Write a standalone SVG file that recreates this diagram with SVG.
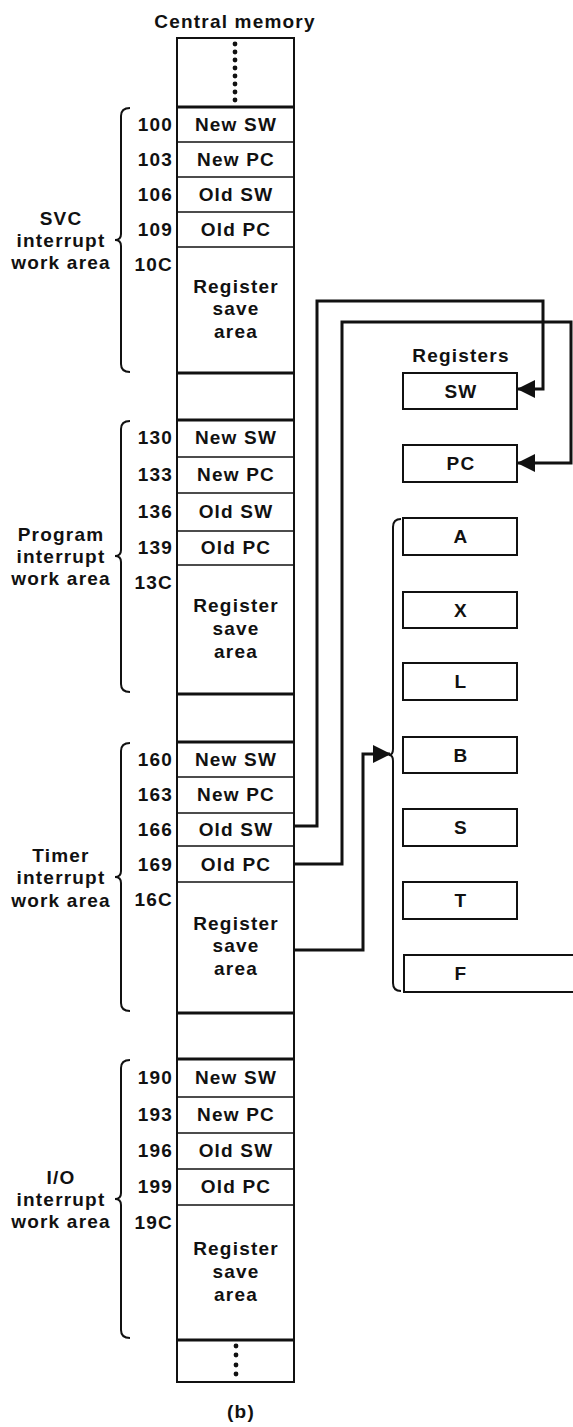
<svg xmlns="http://www.w3.org/2000/svg" width="573" height="1427" viewBox="0 0 573 1427">
<style>
text{font-family:"Liberation Sans",Arial,sans-serif;font-weight:bold;font-size:19px;fill:#111;letter-spacing:1.2px}
.c{text-anchor:middle}
.r{text-anchor:end}
.box{fill:#fff;stroke:#111;stroke-width:2}
.thin{stroke:#111;stroke-width:1.6}
.thick{stroke:#111;stroke-width:3.2}
.brace{fill:none;stroke:#111;stroke-width:2}
.dot{fill:#111}
.conn{fill:none;stroke:#111;stroke-width:3;stroke-linejoin:miter}
</style>
<defs>
<marker id="ah" markerUnits="userSpaceOnUse" markerWidth="18" markerHeight="18" viewBox="0 0 18 18" refX="17" refY="9" orient="auto">
<path d="M0,0 L18,9 L0,18 z" fill="#111"/>
</marker>
</defs>
<rect width="573" height="1427" fill="#fff"/>
<text class="c" x="235" y="28">Central memory</text>

<g id="memory">
<rect class="box" x="177" y="38" width="117" height="1344"/>
<g id="top-dots">
<circle class="dot" cx="235" cy="44" r="2.4"/><circle class="dot" cx="235" cy="52" r="2.4"/><circle class="dot" cx="235" cy="60" r="2.4"/><circle class="dot" cx="235" cy="68" r="2.4"/><circle class="dot" cx="235" cy="76" r="2.4"/><circle class="dot" cx="235" cy="84" r="2.4"/><circle class="dot" cx="235" cy="92" r="2.4"/><circle class="dot" cx="235" cy="100" r="2.4"/>
</g>
<line class="thick" x1="177" y1="107" x2="294" y2="107"/>
<line class="thick" x1="177" y1="373" x2="294" y2="373"/>
<line class="thick" x1="177" y1="420" x2="294" y2="420"/>
<line class="thick" x1="177" y1="694" x2="294" y2="694"/>
<line class="thick" x1="177" y1="742" x2="294" y2="742"/>
<line class="thick" x1="177" y1="1013" x2="294" y2="1013"/>
<line class="thick" x1="177" y1="1059" x2="294" y2="1059"/>
<line class="thick" x1="177" y1="1340" x2="294" y2="1340"/>
<g id="bottom-dots">
<circle class="dot" cx="236" cy="1346" r="2.4"/><circle class="dot" cx="236" cy="1355" r="2.4"/><circle class="dot" cx="236" cy="1365" r="2.4"/><circle class="dot" cx="236" cy="1374" r="2.4"/>
</g>
</g>

<g id="svc-area">
<line class="thin" x1="177" y1="142" x2="294" y2="142"/>
<line class="thin" x1="177" y1="177" x2="294" y2="177"/>
<line class="thin" x1="177" y1="212" x2="294" y2="212"/>
<line class="thin" x1="177" y1="247" x2="294" y2="247"/>
<text class="r" x="173" y="131">100</text><text class="c" x="236" y="131">New SW</text>
<text class="r" x="173" y="166">103</text><text class="c" x="236" y="166">New PC</text>
<text class="r" x="173" y="201">106</text><text class="c" x="236" y="201">Old SW</text>
<text class="r" x="173" y="236">109</text><text class="c" x="236" y="236">Old PC</text>
<text class="r" x="173" y="271">10C</text>
<text class="c" x="236" y="293">Register</text><text class="c" x="236" y="315">save</text><text class="c" x="236" y="338">area</text>
<path class="brace" d="M130,108 Q121,108 121,116 L121,234 Q121,240 115,240 Q121,240 121,246 L121,364 Q121,372 130,372"/>
<text class="c" x="61" y="225">SVC</text><text class="c" x="61" y="247">interrupt</text><text class="c" x="61" y="269">work area</text>
</g>

<g id="program-area">
<line class="thin" x1="177" y1="457" x2="294" y2="457"/>
<line class="thin" x1="177" y1="493" x2="294" y2="493"/>
<line class="thin" x1="177" y1="531" x2="294" y2="531"/>
<line class="thin" x1="177" y1="565" x2="294" y2="565"/>
<text class="r" x="173" y="444">130</text><text class="c" x="236" y="444">New SW</text>
<text class="r" x="173" y="481">133</text><text class="c" x="236" y="481">New PC</text>
<text class="r" x="173" y="518">136</text><text class="c" x="236" y="518">Old SW</text>
<text class="r" x="173" y="554">139</text><text class="c" x="236" y="554">Old PC</text>
<text class="r" x="173" y="589">13C</text>
<text class="c" x="236" y="612">Register</text><text class="c" x="236" y="635">save</text><text class="c" x="236" y="658">area</text>
<path class="brace" d="M130,421 Q121,421 121,429 L121,550 Q121,556 115,556 Q121,556 121,562 L121,684 Q121,692 130,692"/>
<text class="c" x="61" y="541">Program</text><text class="c" x="61" y="563">interrupt</text><text class="c" x="61" y="585">work area</text>
</g>

<g id="timer-area">
<line class="thin" x1="177" y1="777" x2="294" y2="777"/>
<line class="thin" x1="177" y1="813" x2="294" y2="813"/>
<line class="thin" x1="177" y1="846" x2="294" y2="846"/>
<line class="thin" x1="177" y1="882" x2="294" y2="882"/>
<text class="r" x="173" y="766">160</text><text class="c" x="236" y="766">New SW</text>
<text class="r" x="173" y="801">163</text><text class="c" x="236" y="801">New PC</text>
<text class="r" x="173" y="836">166</text><text class="c" x="236" y="836">Old SW</text>
<text class="r" x="173" y="871">169</text><text class="c" x="236" y="871">Old PC</text>
<text class="r" x="173" y="906">16C</text>
<text class="c" x="236" y="930">Register</text><text class="c" x="236" y="952">save</text><text class="c" x="236" y="975">area</text>
<path class="brace" d="M130,743 Q121,743 121,751 L121,871 Q121,877 115,877 Q121,877 121,883 L121,1003 Q121,1011 130,1011"/>
<text class="c" x="61" y="862">Timer</text><text class="c" x="61" y="884">interrupt</text><text class="c" x="61" y="907">work area</text>
</g>

<g id="io-area">
<line class="thin" x1="177" y1="1097" x2="294" y2="1097"/>
<line class="thin" x1="177" y1="1133" x2="294" y2="1133"/>
<line class="thin" x1="177" y1="1169" x2="294" y2="1169"/>
<line class="thin" x1="177" y1="1205" x2="294" y2="1205"/>
<text class="r" x="173" y="1084">190</text><text class="c" x="236" y="1084">New SW</text>
<text class="r" x="173" y="1121">193</text><text class="c" x="236" y="1121">New PC</text>
<text class="r" x="173" y="1157">196</text><text class="c" x="236" y="1157">Old SW</text>
<text class="r" x="173" y="1193">199</text><text class="c" x="236" y="1193">Old PC</text>
<text class="r" x="173" y="1229">19C</text>
<text class="c" x="236" y="1255">Register</text><text class="c" x="236" y="1278">save</text><text class="c" x="236" y="1301">area</text>
<path class="brace" d="M130,1060 Q121,1060 121,1068 L121,1193 Q121,1199 115,1199 Q121,1199 121,1205 L121,1330 Q121,1338 130,1338"/>
<text class="c" x="61" y="1184">I/O</text><text class="c" x="61" y="1206">interrupt</text><text class="c" x="61" y="1228">work area</text>
</g>

<text class="c" x="461" y="362">Registers</text>
<g id="reg-SW"><rect class="box" x="403" y="373" width="114" height="36"/><text class="c" x="461" y="398">SW</text></g>
<g id="reg-PC"><rect class="box" x="403" y="445" width="114" height="37"/><text class="c" x="461" y="470">PC</text></g>
<g id="reg-A"><rect class="box" x="403" y="518" width="114" height="37"/><text class="c" x="461" y="543">A</text></g>
<g id="reg-X"><rect class="box" x="403" y="592" width="114" height="36"/><text class="c" x="461" y="617">X</text></g>
<g id="reg-L"><rect class="box" x="403" y="663" width="114" height="37"/><text class="c" x="461" y="688">L</text></g>
<g id="reg-B"><rect class="box" x="403" y="737" width="114" height="36"/><text class="c" x="461" y="762">B</text></g>
<g id="reg-S"><rect class="box" x="403" y="809" width="114" height="37"/><text class="c" x="461" y="834">S</text></g>
<g id="reg-T"><rect class="box" x="403" y="882" width="114" height="37"/><text class="c" x="461" y="907">T</text></g>
<g id="reg-F"><rect class="box" x="404" y="955" width="180" height="37"/><text class="c" x="461" y="980">F</text></g>
<path class="brace" d="M401,519 Q393,519 393,527 L393,749 Q393,755 389,755 Q393,755 393,761 L393,983 Q393,991 401,991"/>

<g id="connectors">
<path class="conn" d="M294,826 H317 V301 H543 V389 H518" marker-end="url(#ah)"/>
<path class="conn" d="M294,864 H342 V322 H571 V463 H518" marker-end="url(#ah)"/>
<path class="conn" d="M294,950 H363 V754 H390" marker-end="url(#ah)"/>
</g>

<text class="c" x="241" y="1418">(b)</text>
</svg>
